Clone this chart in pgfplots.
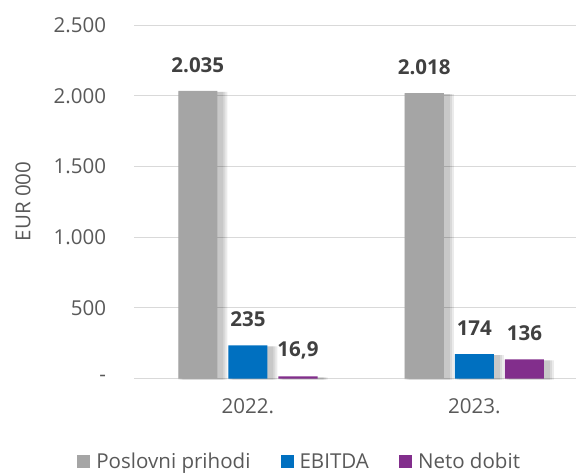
\documentclass[border=0pt]{standalone}
\usepackage{fontspec}
\setmainfont{Open Sans}
\usepackage{pgfplots}
\usepackage{pgfplotstable}
\pgfplotsset{compat=1.18}
\definecolor{cgray}{HTML}{A5A5A5}
\definecolor{cblue}{HTML}{0070C0}
\definecolor{cpurple}{RGB}{130,46,140}
\definecolor{cgrid}{HTML}{D9D9D9}
\definecolor{ctick}{HTML}{595959}
\definecolor{clabel}{HTML}{404040}
\pgfplotstableread{
x gray blue purple glab blab plab
0 2035 235 16.9 2.035 235 {16,9}
1 2018 174 136 2.018 174 136
}\data
\pgfplotsset{shadowbar/.style={forget plot, fill=black, draw=none, fill opacity=0.08, xshift=5pt, yshift=-1pt}}
\begin{document}
\begin{tikzpicture}[font=\fontsize{20.5}{24}\selectfont]
\useasboundingbox (-134pt,-94pt) rectangle (441pt,378pt);
\begin{axis}[
  scale only axis,
  width=441pt, height=353pt,
  xmin=-0.502, xmax=1.449,
  ymin=0, ymax=2500,
  axis line style={draw=none},
  ytick={0,500,1000,1500,2000,2500},
  yticklabels={{-\hspace{11pt}},500,1.000,1.500,2.000,2.500},
  xtick={0,1}, xticklabels={2022.,2023.},
  major tick length=0pt,
  ymajorgrids, grid style={cgrid, line width=1pt},
  every tick label/.append style={text=ctick, inner sep=0pt},
  yticklabel shift=28pt,
  xticklabel shift=20pt,
  ybar, bar width=39pt,
  every node near coord/.append style={font=\fontsize{20.5}{24}\selectfont\bfseries, text=clabel, anchor=center, inner sep=0pt, yshift=26pt},
  legend style={draw=none, fill=none, at={(-57pt,-83pt)}, anchor=west, legend columns=3,
    /tikz/every odd column/.append style={column sep=5pt},
    /tikz/every even column/.append style={column sep=29pt},
    font=\fontsize{20.5}{24}\selectfont, text=ctick, inner sep=0pt, row sep=0pt,
    nodes={inner sep=1pt}},
  legend image code/.code={\fill[#1, draw=none] (0pt,-6.5pt) rectangle (13pt,6.5pt);},
  clip=false,
]
% soft shadows
\addplot[shadowbar, bar width=41pt, bar shift=-50pt] table[x=x, y=gray] {\data};
\addplot[shadowbar, bar width=41pt, bar shift=0pt] table[x=x, y=blue] {\data};
\addplot[shadowbar, bar width=41pt, bar shift=50pt] table[x=x, y=purple] {\data};
\addplot[shadowbar, bar width=45pt, bar shift=-50pt] table[x=x, y=gray] {\data};
\addplot[shadowbar, bar width=45pt, bar shift=0pt] table[x=x, y=blue] {\data};
\addplot[shadowbar, bar width=45pt, bar shift=50pt] table[x=x, y=purple] {\data};
\addplot[shadowbar, bar width=49pt, bar shift=-50pt] table[x=x, y=gray] {\data};
\addplot[shadowbar, bar width=49pt, bar shift=0pt] table[x=x, y=blue] {\data};
\addplot[shadowbar, bar width=49pt, bar shift=50pt] table[x=x, y=purple] {\data};
\addplot[fill=cgray, draw=none, bar shift=-50pt, point meta=explicit symbolic, nodes near coords] table[x=x, y=gray, meta=glab] {\data};
\addplot[fill=cblue, draw=none, bar shift=0pt, point meta=explicit symbolic, nodes near coords] table[x=x, y=blue, meta=blab] {\data};
\addplot[fill=cpurple, draw=none, bar shift=50pt, point meta=explicit symbolic, nodes near coords] table[x=x, y=purple, meta=plab] {\data};
\legend{Poslovni prihodi, EBITDA, Neto dobit}
\end{axis}
\node[rotate=90, text=ctick, inner sep=0pt] at (-111pt,177pt) {EUR 000};
\end{tikzpicture}
\end{document}
